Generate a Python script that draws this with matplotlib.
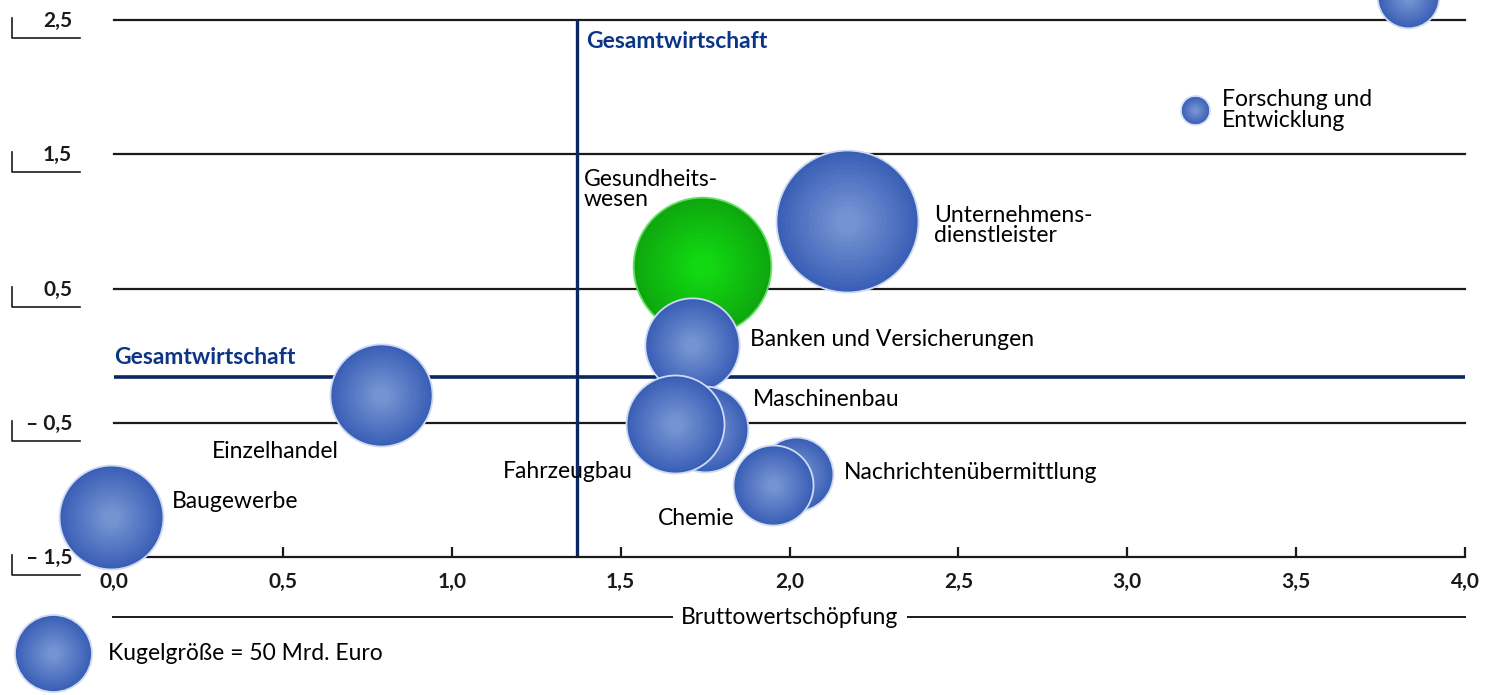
#!/usr/bin/env python3
# -*- coding: utf-8 -*-

"""
Bubble chart: Bruttowertschöpfung vs. Beschäftigung by branch
"""

import numpy as np
import matplotlib
matplotlib.use('Agg')
import matplotlib.pyplot as plt
from matplotlib.colors import to_rgb

plt.rcParams['font.family'] = ['Lato', 'DejaVu Sans']

# data
branches = ['Top', 'Forschung und\nEntwicklung', 'Unternehmens-\ndienstleister',
            'Gesundheits-\nwesen', 'Banken und Versicherungen', 'Maschinenbau',
            'Fahrzeugbau', 'Nachrichtenübermittlung', 'Chemie',
            'Einzelhandel', 'Baugewerbe']
xval = [3.83, 3.20, 2.17, 1.74, 1.71, 1.75, 1.66, 2.02, 1.95, 0.79, -0.01]
yval = [2.67, 1.83, 1.00, 0.67, 0.08, -0.55, -0.51, -0.88, -0.96, -0.29, -1.20]
size_bn = [32, 7, 170, 160, 75, 62, 81, 46, 54, 88, 91]
highlight = 'Gesundheits-\nwesen'

total_x = 1.37
total_y = -0.16
legend_bn = 50

xticks = [0.0, 0.5, 1.0, 1.5, 2.0, 2.5, 3.0, 3.5, 4.0]
yticks = [2.5, 1.5, 0.5, -0.5, -1.5]

# label layout: offset from bubble centre in pixels (dy up), alignment
label_pos = {
    'Forschung und\nEntwicklung': (27, 0, 'left'),
    'Unternehmens-\ndienstleister': (87, -4, 'left'),
    'Gesundheits-\nwesen': (-118, 76, 'left'),
    'Banken und Versicherungen': (58, 5, 'left'),
    'Maschinenbau': (48, 30, 'left'),
    'Fahrzeugbau': (-42, -47, 'right'),
    'Chemie': (-38, -34, 'right'),
    'Nachrichtenübermittlung': (48, 1, 'left'),
    'Einzelhandel': (-42, -57, 'right'),
    'Baugewerbe': (61, 15, 'left'),
}

PT = 0.72            # points per pixel at dpi 100
SCALE = 61.5         # marker area (pt^2) per bn Euro
NAVY = '#0b2660'
LINE = '#1a1a1a'
FS = 16.5


def _mix(c1, c2, t):
    a, b = np.array(to_rgb(c1)), np.array(to_rgb(c2))
    return tuple(a + (b - a) * t)


def bubble(ax, x, y, value, outer, inner, edge, zorder):
    """ draw a shaded bubble as stacked circles """
    s0 = value * SCALE
    ax.scatter([x], [y], s=s0, color=outer, edgecolors=edge, linewidths=1.3,
               zorder=zorder, clip_on=False)
    n = 14
    for i in range(1, n):
        frac = 1 - 0.9 * i / n
        ax.scatter([x], [y], s=s0 * frac**2, color=_mix(outer, inner, i / (n - 1)),
                   linewidths=0, zorder=zorder + 0.01 * i, clip_on=False)


fig = plt.figure(figsize=(14.87, 6.95), dpi=100)
ax = fig.add_axes([114/1487, 138/695, 1351/1487, 537/695])
ax.set_xlim(0, 4)
ax.set_ylim(-1.5, 2.5)

# grid lines
for yt in yticks[:-1]:
    ax.axhline(yt, color=LINE, lw=1.6, zorder=1, clip_on=False)

# overall economy lines
ax.axvline(total_x, color=NAVY, lw=2.4, zorder=2)
ax.axhline(total_y, color=NAVY, lw=2.6, zorder=2)
ax.annotate('Gesamtwirtschaft', (total_x, 2.5), xytext=(9*PT, -22*PT),
            textcoords='offset points', ha='left', va='center',
            fontsize=FS, fontweight='bold', color='#0d3585')
ax.annotate('Gesamtwirtschaft', (0, total_y), xytext=(0, 20*PT),
            textcoords='offset points', ha='left', va='center',
            fontsize=FS, fontweight='bold', color='#0d3585')

# spines and x ticks
for sp in ['top', 'right', 'left']:
    ax.spines[sp].set_visible(False)
ax.spines['bottom'].set_linewidth(1.6)
ax.spines['bottom'].set_color(LINE)
ax.set_xticks(xticks)
ax.set_xticklabels([f'{v:.1f}'.replace('.', ',') for v in xticks],
                   fontsize=15, fontweight='bold', color='#1a1a1a')
ax.tick_params(axis='x', direction='in', length=10*PT, width=1.6, color=LINE, pad=11)
ax.set_yticks([])

# y labels with bracket marks
for yt in yticks:
    lab = f'{abs(yt):.1f}'.replace('.', ',')
    if yt < 0:
        lab = '\u2013 ' + lab
    ax.annotate(lab, (-0.124, yt), xytext=(0, -1*PT), textcoords='offset points',
                ha='right', va='center', fontsize=15, fontweight='bold',
                color='#1a1a1a', annotation_clip=False)
    dy = 18 / 134.25
    ax.plot([-0.302, -0.302, -0.1007], [yt + 2/134.25, yt - dy, yt - dy],
            color=LINE, lw=1.2, clip_on=False)

# bubbles (draw order matters for overlaps)
order = ['Top', 'Forschung und\nEntwicklung', 'Unternehmens-\ndienstleister',
         'Gesundheits-\nwesen', 'Banken und Versicherungen', 'Maschinenbau',
         'Fahrzeugbau', 'Nachrichtenübermittlung', 'Chemie',
         'Einzelhandel', 'Baugewerbe']
for k, name in enumerate(order):
    i = branches.index(name)
    if name == highlight:
        bubble(ax, xval[i], yval[i], size_bn[i], '#0ea80e', '#12d812', '#6ae06a', 10 + k)
    else:
        bubble(ax, xval[i], yval[i], size_bn[i], '#3a5fb6', '#7593d2', '#cfdbf2', 10 + k)
    if name in label_pos:
        dx, dy, ha = label_pos[name]
        ax.annotate(name, (xval[i], yval[i]), xytext=(dx*PT, dy*PT),
                    textcoords='offset points', ha=ha, va='center',
                    fontsize=FS, color='#000000', linespacing=0.95,
                    annotation_clip=False, zorder=40)

# x axis title with line
fig.add_artist(plt.Line2D([113/1487, 1465/1487], [78/695, 78/695],
                          color=LINE, lw=1.4))
fig.text(790/1487, 78/695, 'Bruttowertschöpfung', ha='center', va='center',
         fontsize=FS, color='#000000',
         bbox=dict(facecolor='white', edgecolor='none', pad=6))

# size legend
lax = fig.add_axes([0, 0, 1, 1])
lax.set_xlim(0, 1487)
lax.set_ylim(695, 0)
lax.axis('off')
lax.patch.set_alpha(0)
bubble(lax, 53, 653, legend_bn, '#3a5fb6', '#7593d2', '#cfdbf2', 10)
lax.text(108, 653, f'Kugelgröße = {legend_bn} Mrd. Euro', ha='left', va='center',
         fontsize=FS, color='#000000')

fig.savefig('out.png', dpi=100)
